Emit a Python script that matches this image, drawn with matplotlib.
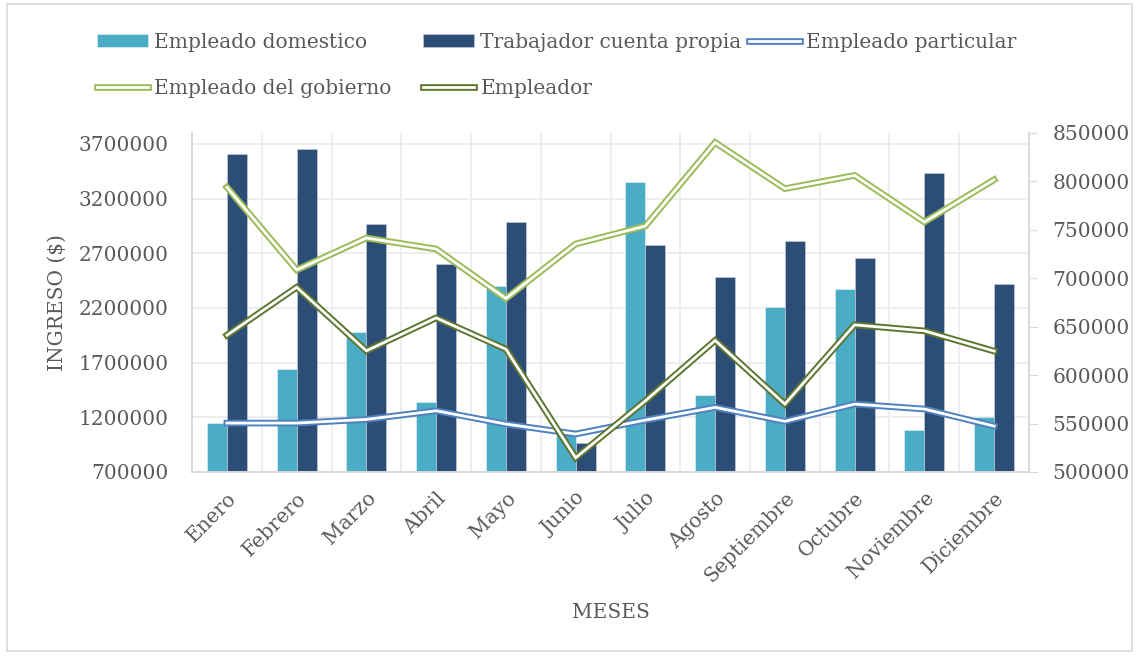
import numpy as np
import matplotlib.pyplot as plt
import matplotlib.patheffects as pe
from matplotlib.patches import Rectangle
from matplotlib.ticker import FuncFormatter, MultipleLocator

meses = ["Enero", "Febrero", "Marzo", "Abril", "Mayo", "Junio", "Julio",
         "Agosto", "Septiembre", "Octubre", "Noviembre", "Diciembre"]

# bars, left axis
domestico = [1150000, 1645000, 1983000, 1340000, 2401000, 1084000, 3350000,
             1401000, 2209000, 2374000, 1087000, 1200000]
cuenta_propia = [3610000, 3651000, 2965000, 2602000, 2989000, 962000, 2776000,
                 2483000, 2816000, 2657000, 3435000, 2422000]

# lines, right axis
particular = [550500, 550500, 554300, 563200, 549500, 539200, 553600,
              566700, 552300, 570100, 565000, 547400]
gobierno = [794000, 708600, 741600, 730200, 679100, 735400, 753900,
            840200, 792500, 806200, 758100, 801700]
empleador = [641200, 690700, 625100, 659100, 626800, 514700, 573500,
             635800, 570100, 651900, 645700, 624800]

txt = "#595959"
grid = "#EBEBEB"
plt.rcParams["font.family"] = ["DejaVu Serif"]
fs = 14.5

fig = plt.figure(figsize=(11.39, 6.56), dpi=100)
fig.patches.append(Rectangle((0.006, 0.008), 0.988, 0.986, transform=fig.transFigure,
                             fill=False, edgecolor="#D9D9D9", linewidth=1.2))
ax = fig.add_axes([0.1686, 0.2805, 0.7348, 0.5168])
ax2 = ax.twinx()

x = np.arange(len(meses))
w = 0.287
b1 = ax.bar(x - w / 2, domestico, w, color="#4BACC6", edgecolor="#E8F4F8",
            linewidth=0.4, label="Empleado domestico", zorder=2)
b2 = ax.bar(x + w / 2, cuenta_propia, w, color="#2C4D75", edgecolor="#C9D3E0",
            linewidth=0.4, label="Trabajador cuenta propia", zorder=2)


def double(y, color, label):
    (ln,) = ax2.plot(x, y, color=color, linewidth=4.8, label=label,
                     solid_joinstyle="miter",
                     path_effects=[pe.Normal(),
                                   pe.Stroke(linewidth=2.0, foreground="white")])
    return ln


l1 = double(particular, "#4F81BD", "Empleado particular")
l2 = double(gobierno, "#9BBB59", "Empleado del gobierno")
l3 = double(empleador, "#5E7530", "Empleador")

ax.set_xlim(-0.5, len(meses) - 0.5)
ax.set_ylim(700000, 3800000)
ax.set_yticks(np.arange(700000, 3700001, 500000))
ax2.set_ylim(500000, 850000)
ax2.yaxis.set_major_locator(MultipleLocator(50000))
fmt = FuncFormatter(lambda v, p: "%d" % v)
ax.yaxis.set_major_formatter(fmt)
ax2.yaxis.set_major_formatter(fmt)

ax.set_xticks(x)
ax.set_xticklabels(meses, rotation=45, ha="right", rotation_mode="anchor")
ax.set_xticks(np.arange(0.5, len(meses) - 0.5), minor=True)
ax.grid(True, axis="y", color=grid, linewidth=1.2, zorder=0)
ax.grid(True, axis="x", which="minor", color=grid, linewidth=1.2, zorder=0)
ax.set_axisbelow(True)

ax.tick_params(axis="x", which="both", length=0, labelsize=fs, labelcolor=txt, pad=12)
ax.tick_params(axis="y", length=0, labelsize=fs, labelcolor=txt, pad=17)
ax2.tick_params(axis="y", length=6, color="#D9D9D9", labelsize=fs, labelcolor=txt, pad=11)
for a in (ax, ax2):
    a.spines["top"].set_visible(False)
    for s in ("left", "right", "bottom"):
        a.spines[s].set_color("#D9D9D9")
        a.spines[s].set_linewidth(1.2)

ax.set_ylabel("INGRESO ($)", fontsize=fs, color=txt, labelpad=8)
ax.set_xlabel("MESES", fontsize=fs, color=txt, labelpad=12)

# legend as three columns, placed one by one like the original
cols = [([b1, l2], 0.0852), ([b2, l3], 0.3714), ([l1], 0.6576)]
for hs, xpos in cols:
    fig.legend(hs, [h.get_label() for h in hs], ncol=1,
               loc="upper left", bbox_to_anchor=(xpos, 0.950), frameon=False,
               fontsize=fs, labelcolor=txt, borderpad=0, borderaxespad=0,
               handlelength=2.55, handletextpad=0.3,
               labelspacing=1.34, handleheight=0.65)

fig.savefig("out.png", dpi=100)
